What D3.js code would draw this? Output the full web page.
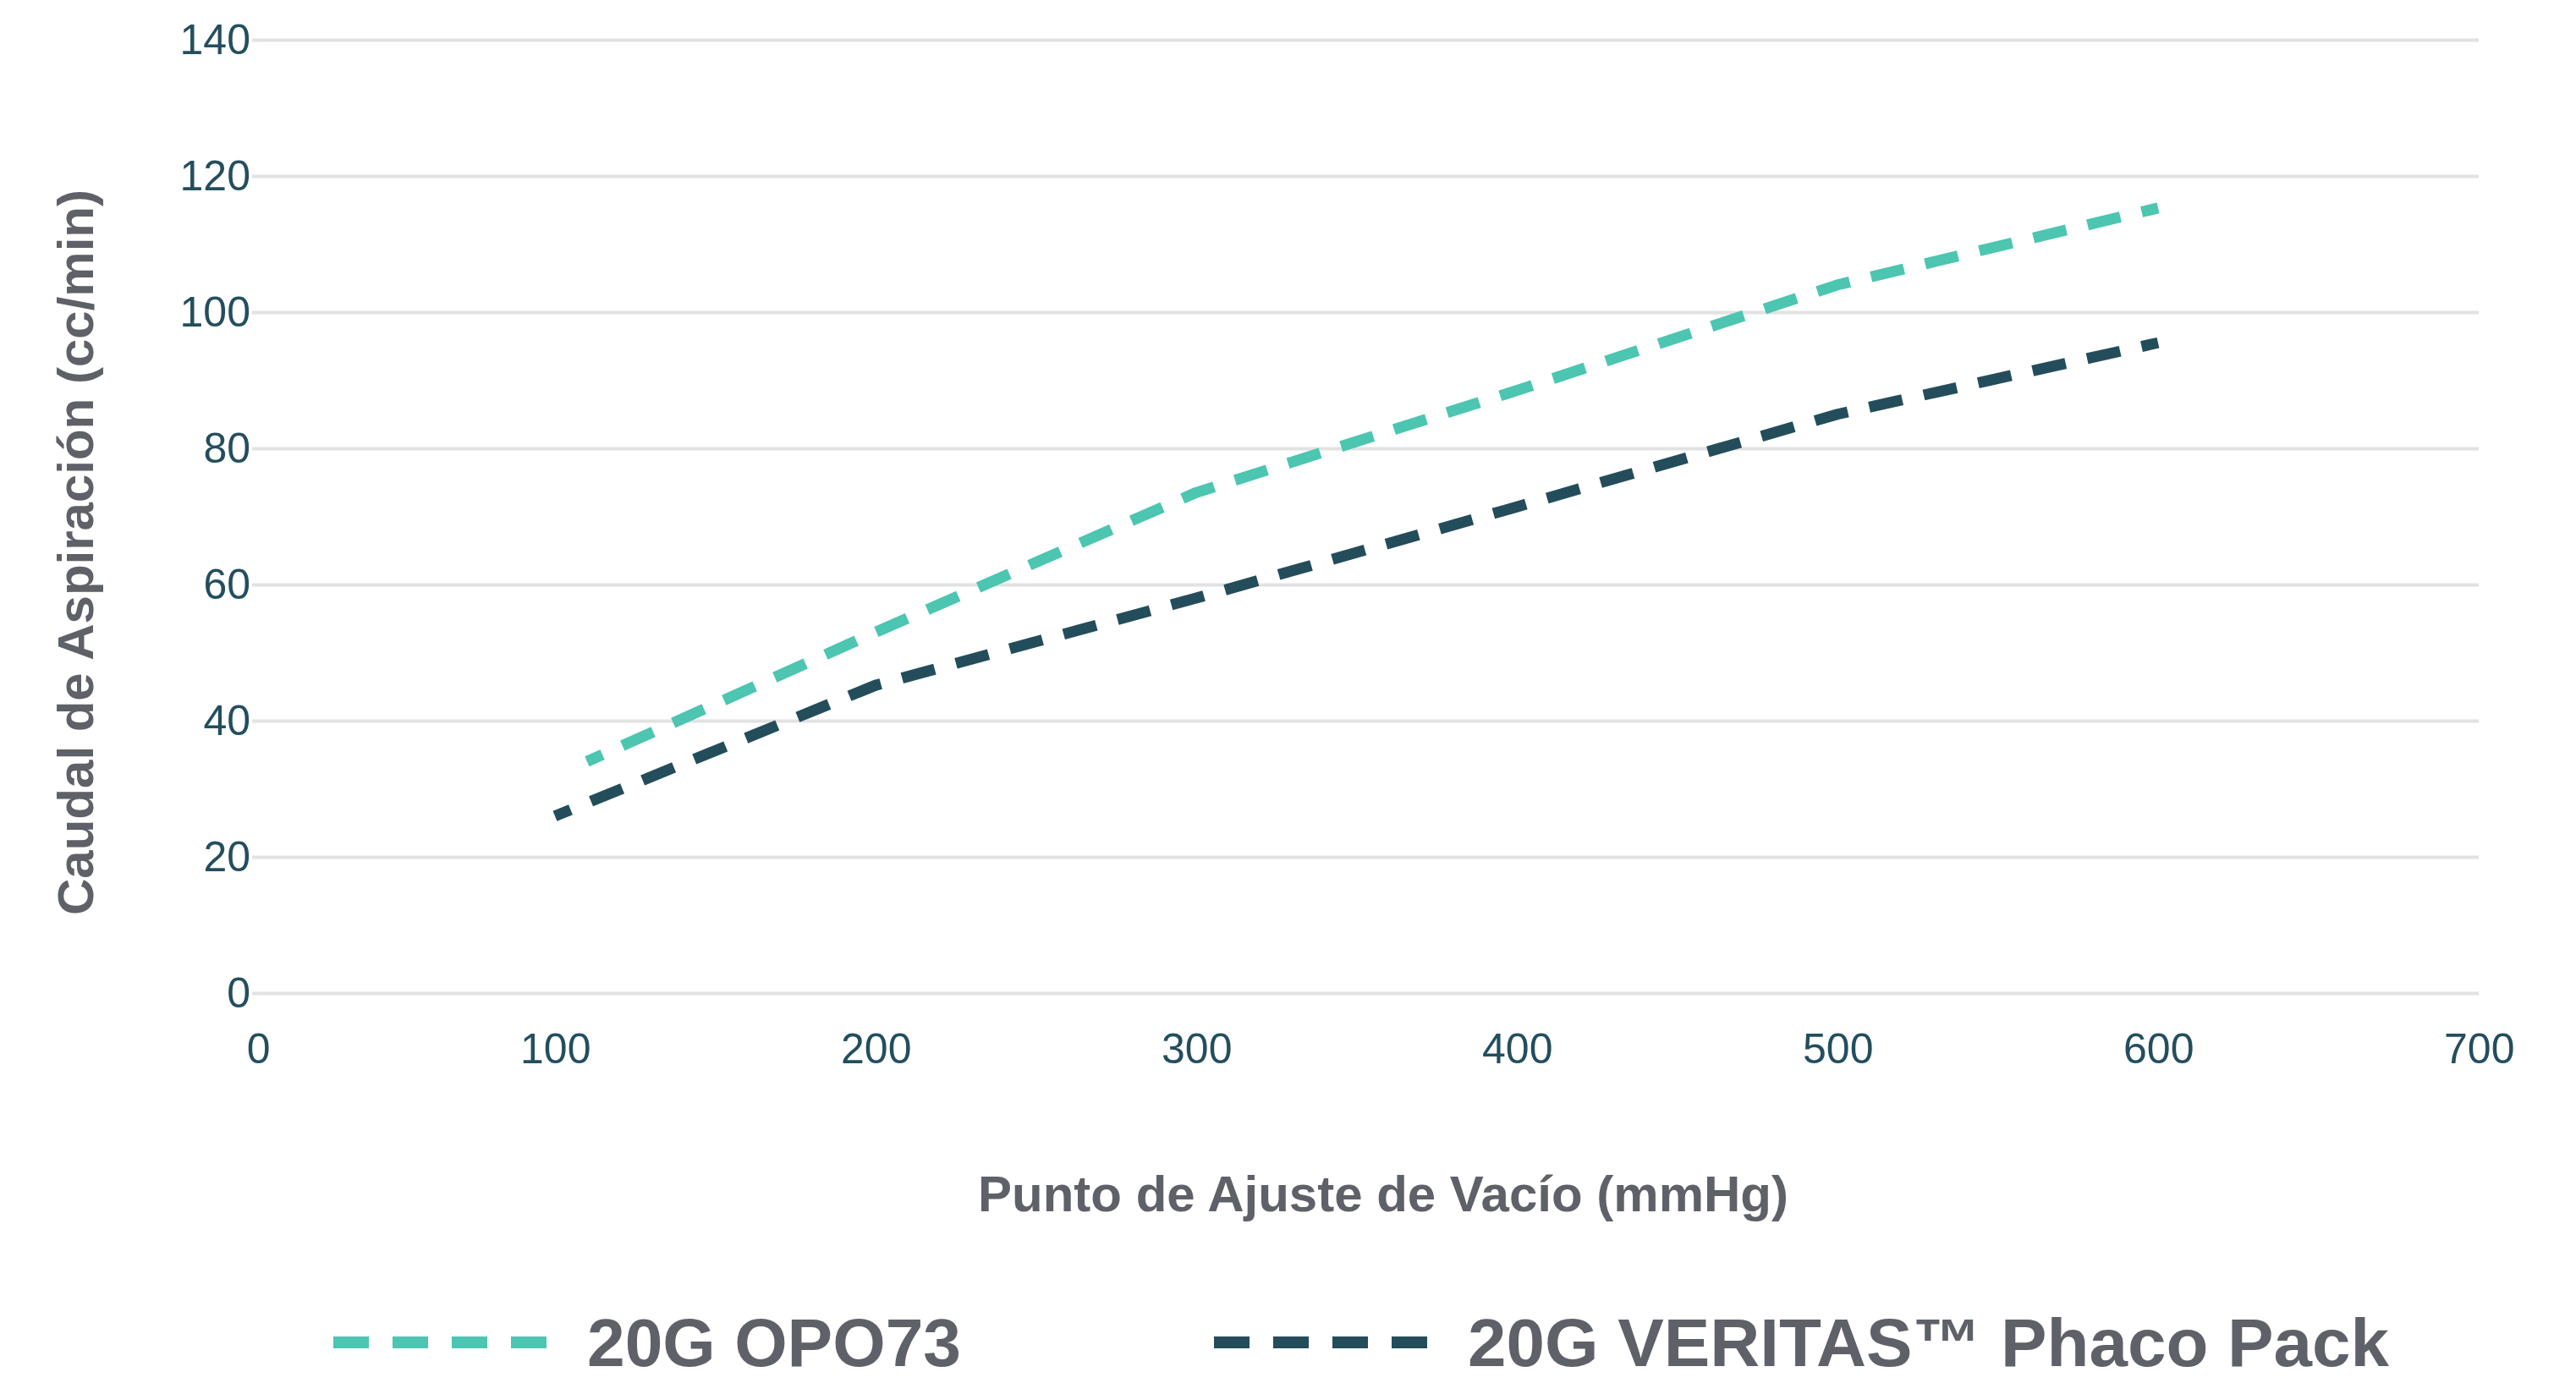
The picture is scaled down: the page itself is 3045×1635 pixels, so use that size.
<!DOCTYPE html>
<html>
<head>
<meta charset="utf-8">
<script src="https://cdn.jsdelivr.net/npm/d3@7"></script>
<style>
	body { margin: 0; background: #ffffff; }
	text { font-family: "Liberation Sans", Arial, Helvetica, sans-serif; }
</style>
</head>
<body>
<div class="chart"></div>
<script>
// values
let vacuumOpo = [110, 200, 300, 400, 500, 600];
let flowOpo = [34, 53, 73.5, 88.5, 104, 115.3];
let vacuumVeritas = [100, 200, 300, 400, 500, 600];
let flowVeritas = [26, 45.2, 58, 71.4, 85, 95.5];
let xTicks = [0, 100, 200, 300, 400, 500, 600, 700];
let yTicks = [0, 20, 40, 60, 80, 100, 120, 140];
let seriesNames = ["20G OPO73", "20G VERITAS\u2122 Phaco Pack"];
let seriesColors = ["#4cc5b1", "#244d5b"];

let createD3 = function () {

	let width = 3045, height = 1635;
	let tickColor = "#244e5e", titleColor = "#5f6168";

	let svg = d3.select(".chart")
		.append("svg")
		.attr("width", width)
		.attr("height", height);

	let x = d3.scaleLinear().domain([0, 700]).range([277, 2930]);
	let y = d3.scaleLinear().domain([0, 140]).range([1174, 47]);
	let gridLeft = 298;

	// horizontal gridlines + y labels
	let yAxis = svg.append("g")
		.attr("transform", "translate(" + gridLeft + ",0)")
		.call(d3.axisLeft(y).tickValues(yTicks).tickSize(-(x(700) - gridLeft)).tickPadding(2));
	yAxis.select(".domain").remove();
	yAxis.selectAll(".tick line")
		.attr("stroke", "#e2e2e2")
		.attr("stroke-width", 4);
	yAxis.selectAll(".tick text")
		.attr("fill", tickColor)
		.style("font-size", "50px");

	// x labels sit right-aligned a bit past the tick
	let xAxis = svg.append("g")
		.attr("transform", "translate(42,1257)")
		.call(d3.axisBottom(x).tickValues(xTicks).tickSize(0).tickPadding(0));
	xAxis.select(".domain").remove();
	xAxis.selectAll(".tick text")
		.attr("fill", tickColor)
		.attr("dy", 0)
		.attr("text-anchor", "end")
		.style("font-size", "50px");

	// axis titles
	svg.append("text")
		.attr("transform", "translate(110,653) rotate(-90)")
		.attr("text-anchor", "middle")
		.attr("fill", titleColor)
		.style("font-size", "60px")
		.style("font-weight", "bold")
		.text("Caudal de Aspiración (cc/min)");

	svg.append("text")
		.attr("x", 1635)
		.attr("y", 1432)
		.attr("text-anchor", "middle")
		.attr("fill", titleColor)
		.style("font-size", "60px")
		.style("font-weight", "bold")
		.text("Punto de Ajuste de Vacío (mmHg)");

	// lines
	let series = [
		vacuumOpo.map((v, i) => ({ x: v, y: flowOpo[i] })),
		vacuumVeritas.map((v, i) => ({ x: v, y: flowVeritas[i] }))
	];

	let line = d3.line()
		.x(d => x(d.x))
		.y(d => y(d.y));

	let dash = 40, gap = 26;
	let paths = svg.selectAll(".serie")
		.data(series)
		.enter().append("path")
		.attr("class", "serie")
		.attr("d", line)
		.attr("fill", "none")
		.attr("stroke", (d, i) => seriesColors[i])
		.attr("stroke-width", 13)
		.attr("stroke-linejoin", "round");

	// stretch the dash pattern a little so each line starts and ends on half a dash
	paths.each(function() {
		let len = this.getTotalLength();
		let k = (len / Math.round(len / (dash + gap))) / (dash + gap);
		d3.select(this)
			.attr("stroke-dasharray", (dash * k) + "," + (gap * k))
			.attr("stroke-dashoffset", dash * k / 2);
	});

	// legend
	let legendX = [394, 1435];
	let legendWidth = [442, 1089];
	let legend = svg.selectAll(".legend")
		.data(seriesNames)
		.enter().append("g")
		.attr("class", "legend")
		.attr("transform", (d, i) => "translate(" + legendX[i] + ",1587)");

	legend.append("line")
		.attr("x1", 0)
		.attr("x2", 252)
		.attr("stroke", (d, i) => seriesColors[i])
		.attr("stroke-width", 14)
		.attr("stroke-dasharray", "42,28");

	legend.append("text")
		.attr("x", 300)
		.attr("y", 28)
		.attr("fill", titleColor)
		.attr("textLength", (d, i) => legendWidth[i])
		.attr("lengthAdjust", "spacingAndGlyphs")
		.style("font-size", "80px")
		.style("font-weight", "bold")
		.text(d => d);
};

createD3();
</script>
</body>
</html>
